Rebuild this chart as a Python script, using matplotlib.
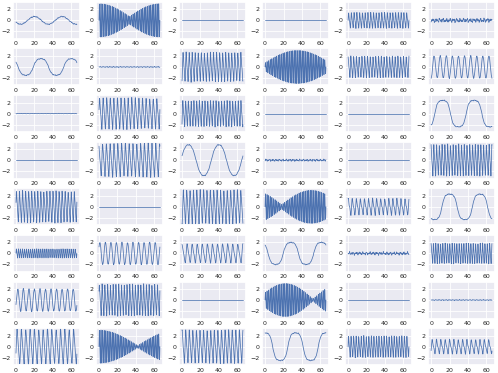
import numpy as np
import matplotlib
matplotlib.use('Agg')
import matplotlib.pyplot as plt
import seaborn as sns

# one entry per panel, row by row (8 rows x 6 columns)
kinds = [
    'slow', 'dense', 'flat', 'flat', 'wave', 'noise',
    'slow', 'noise', 'wave', 'dense', 'wave', 'wave',
    'noise', 'wave', 'wave', 'flat', 'flat', 'slow',
    'flat', 'wave', 'slow', 'noise', 'flat', 'wave',
    'wave', 'flat', 'wave', 'dense', 'wave', 'slow',
    'wave', 'wave', 'wave', 'slow', 'noise', 'wave',
    'wave', 'wave', 'flat', 'dense', 'flat', 'noise',
    'wave', 'dense', 'wave', 'slow', 'wave', 'wave',
]
amps = [
    0.7, 3.0, 0.0, 0.0, 1.4, 0.35,
    1.5, 0.08, 2.6, 3.0, 1.9, 2.0,
    0.04, 2.8, 2.3, 0.0, 0.0, 2.4,
    0.0, 3.0, 2.8, 0.18, 0.0, 2.8,
    2.8, 0.0, 3.0, 3.0, 1.5, 2.3,
    0.8, 2.0, 1.7, 2.0, 0.25, 1.8,
    2.0, 2.8, 0.0, 3.0, 0.0, 0.08,
    3.1, 3.0, 3.0, 2.5, 1.9, 1.3,
]
cycles = [
    2.2, 0, 0, 0, 22, 0,
    2, 0, 20, 0, 22, 10,
    0, 17, 22, 0, 0, 1.94,
    0, 16, 2, 0, 0, 22,
    20, 0, 18, 0, 15, 2,
    30, 11, 12, 2, 0, 26,
    11, 22, 0, 0, 0, 0,
    14, 0, 17, 2, 24, 14,
]
phases = [
    -2.62, 0, 0, 0, 0.0, 0,
    -3.57, 0, -1.0, 0, 1.1, -1.57,
    0, 0.2, -0.7, 0, 0, -0.74,
    0, 1.57, 0.24, 0, 0, 1.3,
    0.2, 0, -1.2, 0, 0.9, -2.24,
    0.0, 0.6, 1.2, -3.76, 0, 1.2,
    -0.5, 0.4, 0, 0, 0, 0,
    -0.3, 0, 1.0, -4.71, 0.0, -0.4,
]
# wave: second-harmonic skew, slow: squareness
shapes = [
    0.0, 0, 0, 0, 0.35, 0,
    1.3, 0, 0.35, 0, 0.35, 0.0,
    0, 0.35, 0.35, 0, 0, 1.7,
    0, 0.35, 0.8, 0, 0, 0.35,
    0.3, 0, 0.35, 0, 0.4, 1.7,
    0.2, 0.0, 0.3, 1.5, 0, 0.35,
    0.0, 0.35, 0, 0, 0, 0,
    0.25, 0, 0.35, 1.7, 0.35, 0.4,
]
# envelopes of the dense panels
dense_ids = [1, 9, 27, 39, 43]
env_center = [1, 35, 50, 22, 0]
env_period = [64, 80, 64, 60, 84]
env_floor = [0.7, 0.2, 0.4, 0.2, 0.2]

x_ticks = [0, 20, 40, 60]
y_ticks = [-2, 0, 2]

t = np.linspace(0, 66, 700)


def wiggle(t, k):
    return (np.sin(1.7 * t + 0.9 * k) + 0.8 * np.sin(3.1 * t + 2.3 * k)
            + 0.6 * np.sin(5.3 * t + 1.1 * k) + 0.5 * np.sin(7.9 * t + 0.4 * k)) / 2.0


def signal(i):
    kind, a = kinds[i], amps[i]
    if kind == 'flat':
        return np.zeros_like(t)
    if kind == 'noise':
        return a * wiggle(t, i)
    theta = 2 * np.pi * cycles[i] * t / 66 + phases[i]
    if kind == 'wave':
        y = np.sin(theta) + shapes[i] * np.sin(2 * theta)
        return a * y / np.abs(y).max() + 0.05 * a * wiggle(t, i)
    if kind == 'slow':
        k = shapes[i]
        y = np.sin(theta) if k == 0 else np.tanh(k * np.sin(theta)) / np.tanh(k)
        return a * y + 0.08 * wiggle(t, i)
    j = dense_ids.index(i)
    env = env_floor[j] + (a - env_floor[j]) * np.abs(
        np.cos(np.pi * (t - env_center[j]) / env_period[j]))
    return env * np.sin(2 * np.pi * 38 * t / 66)


sns.set_theme(style='darkgrid')
plt.rcParams['font.family'] = ['DejaVu Sans']

fig, axes = plt.subplots(8, 6, figsize=(4.98, 3.73), dpi=100)
fig.subplots_adjust(left=0.026, right=0.994, top=0.995, bottom=0.021,
                    wspace=0.24, hspace=0.26)

for i, ax in enumerate(axes.flat):
    ax.plot(t, signal(i), color='#4c72b0', lw=0.55)
    ax.set_ylim(-3.35, 3.35)
    ax.set_xticks(x_ticks)
    ax.set_yticks(y_ticks)
    ax.tick_params(labelsize=4.5, length=0, pad=1.8)
    ax.grid(lw=0.6)

fig.savefig('out.png', dpi=100)
